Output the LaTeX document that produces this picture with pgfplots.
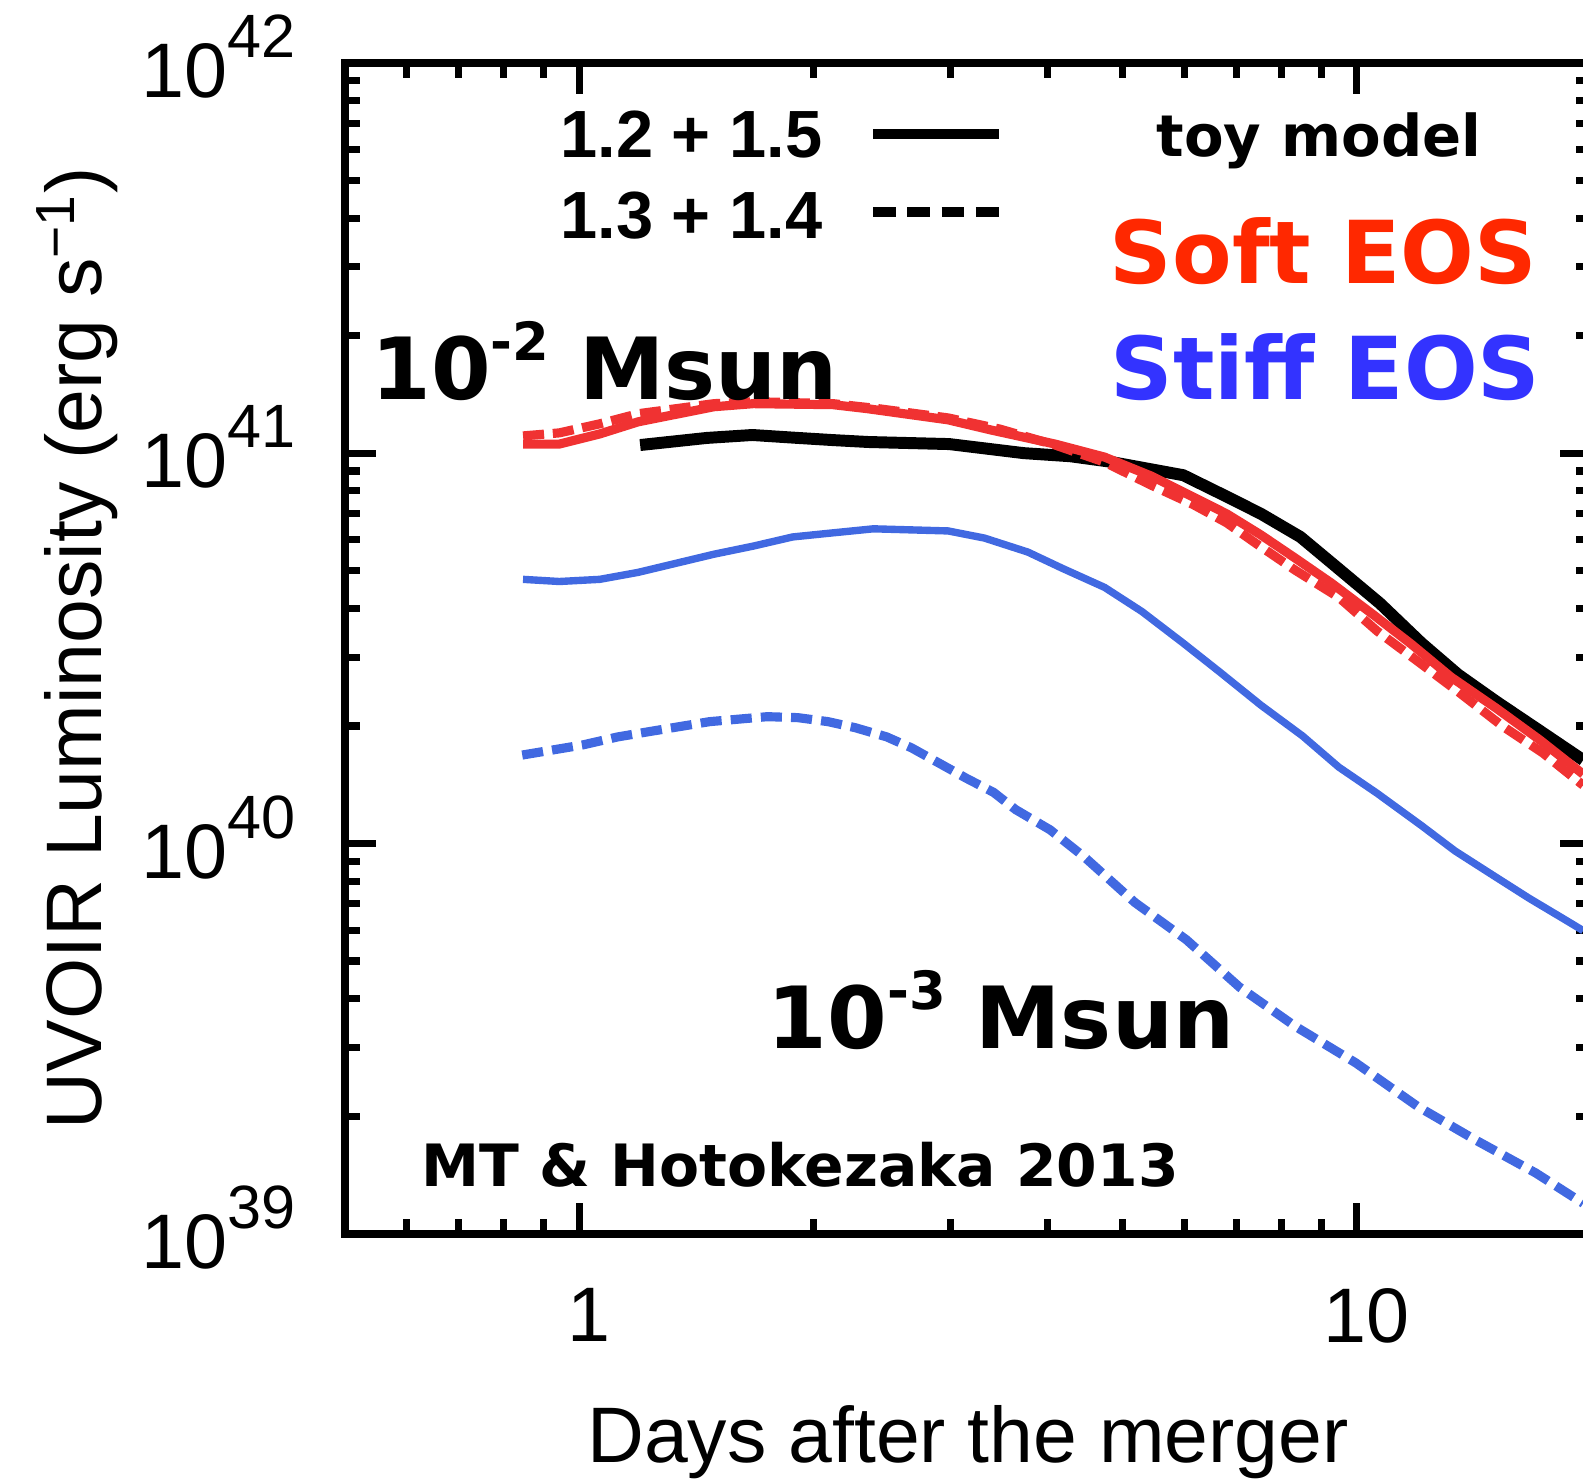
\documentclass[border=0pt]{standalone}
\usepackage{fontspec}
\setmainfont{Liberation Sans}
\newfontfamily\heavy{DejaVu Sans}
\usepackage{pgfplots}
\pgfplotsset{compat=1.18}

\definecolor{softline}{RGB}{240,50,50}
\definecolor{stiffline}{RGB}{65,105,225}
\definecolor{softtext}{RGB}{255,40,0}
\definecolor{stifftext}{RGB}{51,51,255}

\newcommand{\tenpow}[1]{10\raisebox{0.52em}{\fontsize{17.4}{17.4}\selectfont #1}}

% toy model, 1.2 + 1.5
\pgfplotstableread{
x      L
1.198  1.049e41
1.460  1.094e41
1.670  1.113e41
1.910  1.094e41
2.121  1.080e41
2.354  1.068e41
2.991  1.055e41
3.731  1.000e41
4.280  9.82e40
4.779  9.53e40
5.981  8.78e40
6.802  7.74e40
7.530  6.99e40
8.461  6.10e40
9.282  5.23e40
10.71  4.12e40
12.11  3.26e40
13.49  2.71e40
15.11  2.31e40
17.18  1.945e40
19.54  1.636e40
}\toyA

% soft EOS, 1.2 + 1.5
\pgfplotstableread{
x      L
0.847  1.055e41
0.943  1.055e41
1.063  1.120e41
1.191  1.203e41
1.491  1.315e41
1.675  1.339e41
2.121  1.331e41
2.347  1.300e41
2.982  1.217e41
3.381  1.147e41
4.093  1.055e41
4.738  9.77e40
5.452  8.72e40
6.035  7.88e40
6.802  6.99e40
7.530  6.17e40
8.335  5.38e40
9.282  4.64e40
10.49  3.86e40
11.75  3.24e40
13.21  2.67e40
15.11  2.22e40
17.18  1.843e40
19.54  1.505e40
}\softA

% soft EOS, 1.3 + 1.4
\pgfplotstableread{
x      L
0.847  1.107e41
0.943  1.127e41
1.063  1.189e41
1.191  1.262e41
1.491  1.339e41
1.675  1.355e41
2.121  1.339e41
2.426  1.300e41
2.982  1.231e41
3.473  1.153e41
4.093  1.049e41
4.738  9.48e40
5.452  8.26e40
6.163  7.38e40
6.802  6.63e40
7.374  5.92e40
8.335  5.01e40
9.478  4.27e40
10.62  3.50e40
11.97  2.93e40
13.49  2.45e40
15.38  2.00e40
17.34  1.706e40
19.54  1.410e40
}\softB

% stiff EOS, 1.2 + 1.5
\pgfplotstableread{
x      L
0.847  4.75e40
0.943  4.69e40
1.063  4.75e40
1.191  4.95e40
1.491  5.51e40
1.675  5.78e40
1.882  6.10e40
2.121  6.25e40
2.390  6.40e40
2.982  6.32e40
3.320  6.06e40
3.775  5.58e40
4.180  5.07e40
4.738  4.53e40
5.291  3.93e40
5.981  3.26e40
6.663  2.75e40
7.530  2.26e40
8.511  1.887e40
9.478  1.569e40
10.62  1.344e40
12.11  1.111e40
13.37  9.57e39
15.02  8.25e39
16.67  7.23e39
18.79  6.27e39
19.54  5.98e39
}\stiffA

% stiff EOS, 1.3 + 1.4
\pgfplotstableread{
x      L
0.845  1.685e40
1.010  1.788e40
1.122  1.876e40
1.227  1.933e40
1.472  2.052e40
1.746  2.113e40
1.910  2.101e40
2.089  2.052e40
2.265  1.980e40
2.485  1.876e40
2.677  1.757e40
2.902  1.607e40
3.147  1.469e40
3.411  1.352e40
3.642  1.221e40
4.032  1.084e40
4.464  9.23e39
5.183  7.06e39
6.035  5.67e39
7.070  4.28e39
8.335  3.40e39
9.970  2.74e39
11.97  2.12e39
14.19  1.742e39
16.98  1.432e39
19.54  1.197e39
}\stiffB

\begin{document}
\begin{tikzpicture}
\begin{axis}[
  at={(0,0)}, anchor=south west,
  scale only axis, width=12.46cm, height=11.71cm,
  xmode=log, ymode=log,
  xmin=0.5, xmax=20, ymin=1e39, ymax=1e42,
  xtick={1,10}, xticklabels={1,10},
  minor xtick={0.6,0.7,0.8,0.9,2,3,4,5,6,7,8,9},
  ytick={1e39,1e40,1e41,1e42},
  yticklabels={\tenpow{39},\tenpow{40},\tenpow{41},\tenpow{42}},
  minor ytick={2e39,3e39,4e39,5e39,6e39,7e39,8e39,9e39,
               2e40,3e40,4e40,5e40,6e40,7e40,8e40,9e40,
               2e41,3e41,4e41,5e41,6e41,7e41,8e41,9e41},
  tick align=inside,
  major tick length=3.1mm, minor tick length=1.5mm,
  tick style={black, line width=2pt},
  axis line style={line width=2.3pt},
  tick label style={font=\fontsize{22}{22}\selectfont},
  xticklabel style={inner sep=0pt, anchor=north, yshift=-0.54cm, xshift=0.1cm},
  yticklabel style={inner sep=0pt, anchor=east, xshift=-0.49cm, yshift=0.06cm},
  label style={font=\fontsize{22.4}{22.4}\selectfont},
  xlabel={Days after the merger},
  ylabel={UVOIR Luminosity (erg s\textsuperscript{−1})},
  xlabel style={at={(axis description cs:0.5,-0.1956)}, anchor=base},
  ylabel style={at={(axis description cs:-0.1958,0.5)}, anchor=base, rotate=0},
  clip=true,
]
\addplot[black, line width=3.4pt] table[x=x, y=L] {\toyA};
\addplot[softline, line width=2.6pt] table[x=x, y=L] {\softA};
\addplot[softline, line width=2.6pt, dash pattern=on 6pt off 2.5pt] table[x=x, y=L] {\softB};
\addplot[stiffline, line width=2.1pt] table[x=x, y=L] {\stiffA};
\addplot[stiffline, line width=2.6pt, dash pattern=on 6pt off 2.6pt] table[x=x, y=L] {\stiffB};
\end{axis}

% line-style key
\node[anchor=base east, inner sep=0pt, font=\bfseries\fontsize{19}{19}\selectfont] at (4.78,10.76) {1.2 + 1.5};
\node[anchor=base east, inner sep=0pt, font=\bfseries\fontsize{19}{19}\selectfont] at (4.78,9.96) {1.3 + 1.4};
\draw[black, line width=3pt] (5.28,11.00) -- (6.54,11.00);
\draw[black, line width=3pt, dash pattern=on 6.5pt off 3.25pt] (5.28,10.22) -- (6.54,10.22);

% annotations
\node[anchor=base, inner sep=0pt, font=\heavy\bfseries\fontsize{16.4}{16.4}\selectfont] at (9.74,10.77) {toy model};
\node[anchor=base, inner sep=0pt, text=softtext, font=\heavy\bfseries\fontsize{24.7}{24.7}\selectfont] at (9.785,9.51) {Soft EOS};
\node[anchor=base, inner sep=0pt, text=stifftext, font=\heavy\bfseries\fontsize{24.7}{24.7}\selectfont] at (9.805,8.35) {Stiff EOS};
\node[anchor=base, inner sep=0pt, font=\heavy\bfseries\fontsize{24.4}{24.4}\selectfont] at (2.595,8.35) {10\raisebox{0.45em}{\fontsize{15}{15}\selectfont -2} Msun};
\node[anchor=base, inner sep=0pt, font=\heavy\bfseries\fontsize{24.4}{24.4}\selectfont] at (6.56,1.86) {10\raisebox{0.45em}{\fontsize{15}{15}\selectfont -3} Msun};
\node[anchor=base, inner sep=0pt, font=\heavy\bfseries\fontsize{16.6}{16.6}\selectfont] at (4.55,0.48) {MT \& Hotokezaka 2013};

\pgfresetboundingbox
\useasboundingbox (-3.45,-2.46) rectangle (12.38,12.34);
\end{tikzpicture}
\end{document}
